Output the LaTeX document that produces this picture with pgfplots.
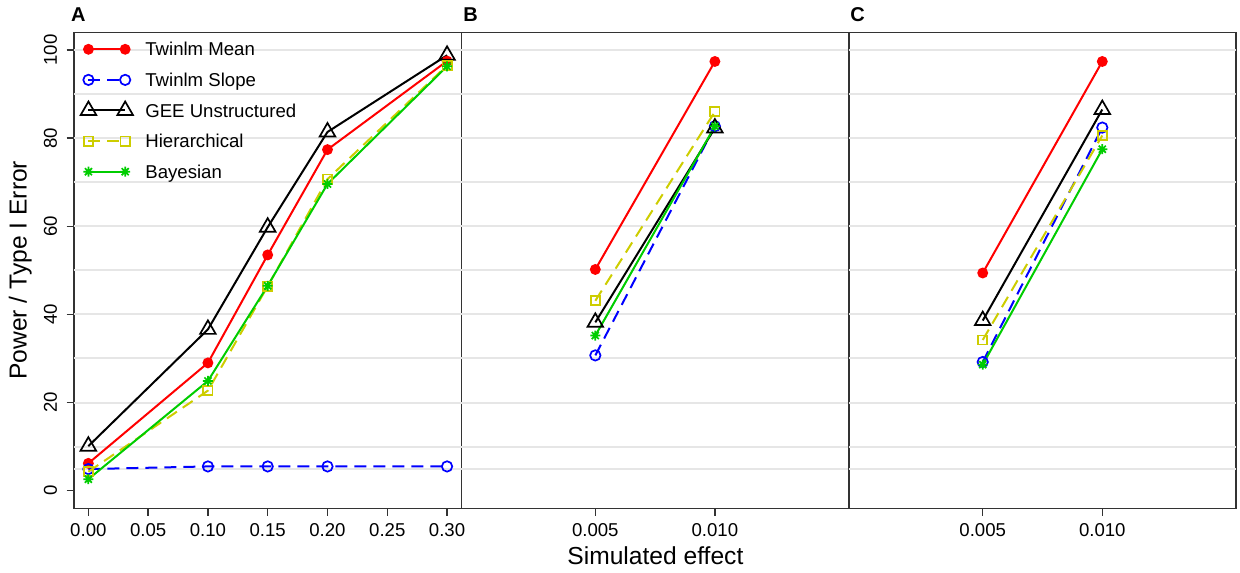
\documentclass[border=0pt]{standalone}
\usepackage{fontspec}
\setmainfont{Liberation Sans}
\usepackage{pgfplots}
\pgfplotsset{compat=1.18}
\definecolor{rred}{HTML}{FF0000}
\definecolor{rblue}{HTML}{0000FF}
\definecolor{ryellow}{HTML}{CDCD00}
\definecolor{rgreen}{HTML}{00CD00}
\definecolor{gridc}{HTML}{E6E6E6}
\definecolor{framec}{HTML}{333333}
\makeatletter
\pgfdeclareplotmark{rstar}{%
  \pgfpathmoveto{\pgfqpoint{-\pgfplotmarksize}{0pt}}%
  \pgfpathlineto{\pgfqpoint{\pgfplotmarksize}{0pt}}%
  \pgfpathmoveto{\pgfqpoint{0pt}{-\pgfplotmarksize}}%
  \pgfpathlineto{\pgfqpoint{0pt}{\pgfplotmarksize}}%
  \pgfpathmoveto{\pgfqpoint{-0.7071\pgfplotmarksize}{-0.7071\pgfplotmarksize}}%
  \pgfpathlineto{\pgfqpoint{0.7071\pgfplotmarksize}{0.7071\pgfplotmarksize}}%
  \pgfpathmoveto{\pgfqpoint{-0.7071\pgfplotmarksize}{0.7071\pgfplotmarksize}}%
  \pgfpathlineto{\pgfqpoint{0.7071\pgfplotmarksize}{-0.7071\pgfplotmarksize}}%
  \pgfusepathqstroke}
\makeatother
\pgfplotsset{
  panel/.style={
    scale only axis, width=193.7pt, height=237.95pt, anchor=south west,
    ymin=-4, ymax=104,
    axis line style={framec, line width=0.75pt},
    every tick/.style={framec, line width=0.75pt},
    tick align=outside, major tick length=3.65pt,
    xtick pos=bottom, ytick pos=left,
    scaled x ticks=false, scaled y ticks=false,
    tick label style={font=\fontsize{9.3}{11}\selectfont},
    xticklabel style={anchor=base, yshift=-10.7pt},
    /pgf/number format/assume math mode=true,
    extra y ticks={5,10,20,30,40,50,60,70,80,90,100},
    extra y tick labels={},
    extra y tick style={grid=major, major tick length=0pt},
    major grid style={gridc, line width=1pt},
  },
  smean/.style={rred, line width=1pt, mark=*, mark size=2.2pt, mark options={solid, fill=rred}},
  sslope/.style={rblue, line width=1pt, dash pattern=on 6pt off 3.5pt, mark=o, mark size=2.6pt, mark options={solid, line width=0.85pt}},
  sgee/.style={black, line width=1pt, mark=triangle, mark size=4.5pt, mark options={solid, line width=0.85pt}},
  shier/.style={ryellow, line width=1pt, dash pattern=on 6pt off 3.5pt, mark=square, mark size=2.3pt, mark options={solid, line width=0.85pt}},
  sbayes/.style={rgreen, line width=1pt, mark=rstar, mark size=2.5pt, mark options={solid, line width=0.85pt}},
}
\begin{document}
\begin{tikzpicture}
\path[use as bounding box] (0,0) rectangle (620pt,286pt);
% Panel A
\begin{axis}[panel, at={(37pt,31.85pt)},
  xmin=-0.012, xmax=0.312,
  xtick={0,0.05,0.1,0.15,0.2,0.25,0.3},
  xticklabels={0.00,0.05,0.10,0.15,0.20,0.25,0.30},
  ytick={0,20,40,60,80,100},
  yticklabel style={xshift=-4.9pt, rotate=90, anchor=base},
  legend style={at={(axis description cs:0.01724,0.98697)}, anchor=north west,
    draw=none, fill=none, inner sep=0pt, outer sep=0pt,
    font=\fontsize{9.3}{11}\selectfont, row sep=4.6pt,
    nodes={inner sep=0pt, text height=8.7pt, text depth=2pt},
    /tikz/every odd column/.append style={column sep=6.2pt}},
  legend cell align=left,
  legend image code/.code={\draw[mark repeat=1,#1] plot coordinates {(0pt,0pt) (18.35pt,0pt)};},
]
\addplot[smean] coordinates {(0,6.2) (0.1,29.0) (0.15,53.5) (0.2,77.4) (0.3,97.5)};
\addplot[sslope] coordinates {(0,4.9) (0.1,5.5) (0.15,5.5) (0.2,5.5) (0.3,5.5)};
\addplot[sgee] coordinates {(0,10.1) (0.1,36.6) (0.15,59.8) (0.2,81.4) (0.3,98.8)};
\addplot[shier] coordinates {(0,4.3) (0.1,22.7) (0.15,46.4) (0.2,70.7) (0.3,96.5)};
\addplot[sbayes] coordinates {(0,2.6) (0.1,24.9) (0.15,46.5) (0.2,69.6) (0.3,96.3)};
\legend{Twinlm Mean, Twinlm Slope, GEE Unstructured, Hierarchical, Bayesian}
\end{axis}
% Panel B
\begin{axis}[panel, at={(230.7pt,31.85pt)},
  xmin=-0.0006, xmax=0.0156,
  xtick={0.005,0.01}, xticklabels={0.005,0.010},
  ytick=\empty,
]
\addplot[smean] coordinates {(0.005,50.2) (0.01,97.4)};
\addplot[sslope] coordinates {(0.005,30.7) (0.01,82.7)};
\addplot[sgee] coordinates {(0.005,38.2) (0.01,82.3)};
\addplot[shier] coordinates {(0.005,43.1) (0.01,86.0)};
\addplot[sbayes] coordinates {(0.005,35.2) (0.01,82.7)};
\end{axis}
% Panel C
\begin{axis}[panel, at={(424.4pt,31.85pt)},
  xmin=-0.0006, xmax=0.0156,
  xtick={0.005,0.01}, xticklabels={0.005,0.010},
  ytick=\empty,
]
\addplot[smean] coordinates {(0.005,49.4) (0.01,97.4)};
\addplot[sslope] coordinates {(0.005,29.2) (0.01,82.4)};
\addplot[sgee] coordinates {(0.005,38.6) (0.01,86.5)};
\addplot[shier] coordinates {(0.005,34.2) (0.01,80.6)};
\addplot[sbayes] coordinates {(0.005,28.6) (0.01,77.5)};
\end{axis}
\node[anchor=base west, inner sep=0pt, font=\bfseries\fontsize{10}{12}\selectfont] at (35.3pt,275.15pt) {A};
\node[anchor=base west, inner sep=0pt, font=\bfseries\fontsize{10}{12}\selectfont] at (231.5pt,275.15pt) {B};
\node[anchor=base west, inner sep=0pt, font=\bfseries\fontsize{10}{12}\selectfont] at (425pt,275.15pt) {C};
\node[anchor=base, inner sep=0pt, font=\fontsize{12.3}{14}\selectfont] at (327.7pt,4pt) {Simulated effect};
\node[anchor=base, inner sep=0pt, rotate=90, font=\fontsize{12.3}{14}\selectfont] at (13.35pt,150.9pt) {Power / Type I Error};
\end{tikzpicture}
\end{document}
